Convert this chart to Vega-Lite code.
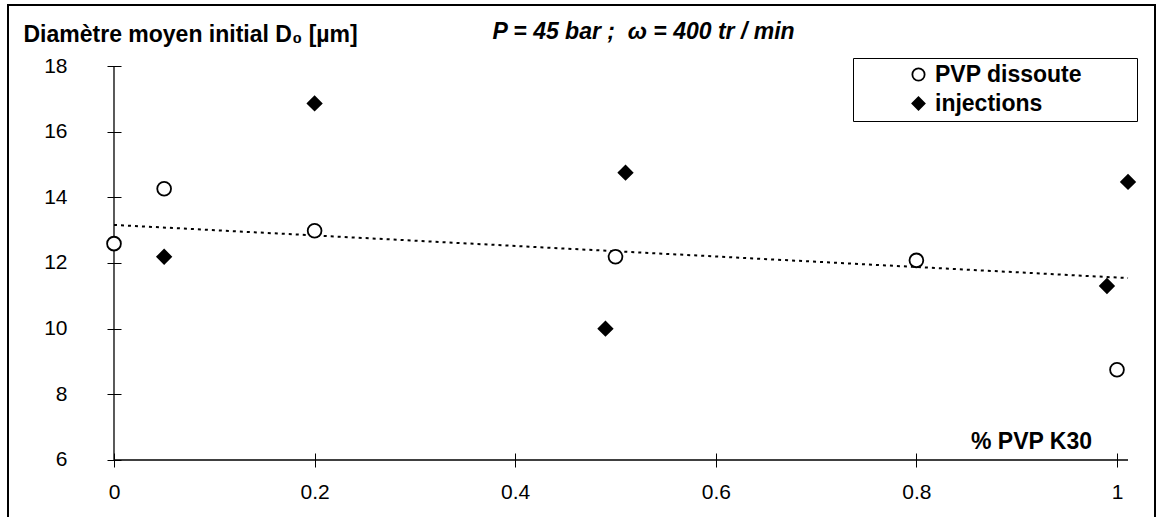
{
  "$schema": "https://vega.github.io/schema/vega-lite/v6.json",
  "width": 1147,
  "height": 520,
  "autosize": {"type": "none"},
  "padding": {"left": 8, "top": 5, "right": 4, "bottom": 0},
  "background": "white",
  "title": {
    "text": "P = 45 bar ;\u00a0\u00a0ω = 400 tr / min",
    "anchor": "middle",
    "frame": "group",
    "offset": -21,
    "dy": 36,
    "dx": 62,
    "baseline": "alphabetic",
    "font": "Liberation Sans",
    "fontSize": 23,
    "fontWeight": "bold",
    "fontStyle": "italic",
    "color": "black"
  },
  "datasets": {
    "points": [
      {"series": "PVP dissoute", "x": 0, "y": 12.59},
      {"series": "PVP dissoute", "x": 0.05, "y": 14.26},
      {"series": "PVP dissoute", "x": 0.2, "y": 12.98},
      {"series": "PVP dissoute", "x": 0.5, "y": 12.19},
      {"series": "PVP dissoute", "x": 0.8, "y": 12.08},
      {"series": "PVP dissoute", "x": 1.0, "y": 8.75},
      {"series": "injections", "x": 0.05, "y": 12.19},
      {"series": "injections", "x": 0.2, "y": 16.86},
      {"series": "injections", "x": 0.49, "y": 10.0},
      {"series": "injections", "x": 0.51, "y": 14.75},
      {"series": "injections", "x": 0.99, "y": 11.3},
      {"series": "injections", "x": 1.011, "y": 14.47}
    ],
    "trend": [
      {"x": 0, "y": 13.16},
      {"x": 1.011, "y": 11.54}
    ],
    "axes": [
      {"x": 0, "y": 6, "x2": 1.011, "y2": 6},
      {"x": 0, "y": 6, "x2": 0, "y2": 18}
    ]
  },
  "encoding": {
    "x": {
      "field": "x",
      "type": "quantitative",
      "scale": {"domain": [-0.10568, 1.03789], "nice": false, "zero": false},
      "axis": {
        "values": [0, 0.2, 0.4, 0.6, 0.8, 1],
        "format": "~g",
        "domain": false,
        "grid": false,
        "tickSize": 14,
        "tickColor": "black",
        "tickWidth": 1,
        "offset": -72,
        "labelFont": "Liberation Sans",
        "labelFontSize": 21,
        "labelColor": "black",
        "labelPadding": 14,
        "labelFlush": false,
        "labelOverlap": false,
        "title": "% PVP K30",
        "titleFont": "Liberation Sans",
        "titleFontSize": 23,
        "titleFontWeight": "bold",
        "titleColor": "black",
        "titleX": 1023,
        "titleY": -5,
        "titleAlign": "center",
        "titleBaseline": "alphabetic"
      }
    },
    "y": {
      "field": "y",
      "type": "quantitative",
      "scale": {"domain": [4.020, 19.858], "nice": false, "zero": false},
      "axis": {
        "values": [6, 8, 10, 12, 14, 16, 18],
        "domain": false,
        "grid": false,
        "tickSize": 14,
        "tickColor": "black",
        "tickWidth": 1,
        "offset": -113,
        "labelFont": "Liberation Sans",
        "labelFontSize": 21,
        "labelColor": "black",
        "labelPadding": 40,
        "labelFlush": false,
        "labelOverlap": false,
        "title": "Diamètre moyen initial D₀ [µm]",
        "titleFont": "Liberation Sans",
        "titleFontSize": 23,
        "titleFontWeight": "bold",
        "titleColor": "black",
        "titleAngle": 0,
        "titleX": -98,
        "titleY": 36,
        "titleAlign": "left",
        "titleBaseline": "alphabetic"
      }
    }
  },
  "layer": [
    {
      "data": {"name": "axes"},
      "mark": {"type": "rule", "color": "black", "strokeWidth": 1.3},
      "encoding": {
        "x2": {"field": "x2"},
        "y2": {"field": "y2"}
      }
    },
    {
      "data": {"name": "trend"},
      "mark": {"type": "line", "color": "black", "strokeDash": [3, 4], "strokeWidth": 2}
    },
    {
      "data": {"name": "points"},
      "mark": {"type": "point", "filled": true, "strokeWidth": 1.8, "opacity": 1, "size": 190},
      "encoding": {
        "shape": {
          "field": "series",
          "type": "nominal",
          "scale": {"domain": ["PVP dissoute", "injections"], "range": ["circle", "diamond"]},
          "legend": {
            "orient": "none",
            "legendX": 845,
            "legendY": 53,
            "title": "MMMM",
            "titleOrient": "right",
            "titleOpacity": 0,
            "titleFontSize": 14,
            "titlePadding": 3,
            "padding": 5,
            "rowPadding": 5,
            "symbolOffset": 49,
            "labelOffset": 5,
            "symbolSize": 150,
            "symbolStrokeWidth": 1.8,
            "labelFont": "Liberation Sans",
            "labelFontSize": 23,
            "labelFontWeight": "bold",
            "labelColor": "black",
            "strokeColor": "black"
          }
        },
        "fill": {
          "field": "series",
          "type": "nominal",
          "scale": {"domain": ["PVP dissoute", "injections"], "range": ["white", "black"]},
          "legend": {
            "orient": "none",
            "legendX": 845,
            "legendY": 53,
            "title": "MMMM",
            "titleOrient": "right",
            "titleOpacity": 0,
            "titleFontSize": 14,
            "titlePadding": 3,
            "padding": 5,
            "rowPadding": 5,
            "symbolOffset": 49,
            "labelOffset": 5,
            "symbolSize": 150,
            "symbolStrokeWidth": 1.8,
            "labelFont": "Liberation Sans",
            "labelFontSize": 23,
            "labelFontWeight": "bold",
            "labelColor": "black",
            "strokeColor": "black"
          }
        },
        "stroke": {
          "field": "series",
          "type": "nominal",
          "scale": {"domain": ["PVP dissoute", "injections"], "range": ["black", "black"]},
          "legend": {
            "orient": "none",
            "legendX": 845,
            "legendY": 53,
            "title": "MMMM",
            "titleOrient": "right",
            "titleOpacity": 0,
            "titleFontSize": 14,
            "titlePadding": 3,
            "padding": 5,
            "rowPadding": 5,
            "symbolOffset": 49,
            "labelOffset": 5,
            "symbolSize": 150,
            "symbolStrokeWidth": 1.8,
            "labelFont": "Liberation Sans",
            "labelFontSize": 23,
            "labelFontWeight": "bold",
            "labelColor": "black",
            "strokeColor": "black"
          }
        }
      }
    }
  ],
  "config": {
    "font": "Liberation Sans",
    "view": {"stroke": "black", "strokeWidth": 2}
  }
}
